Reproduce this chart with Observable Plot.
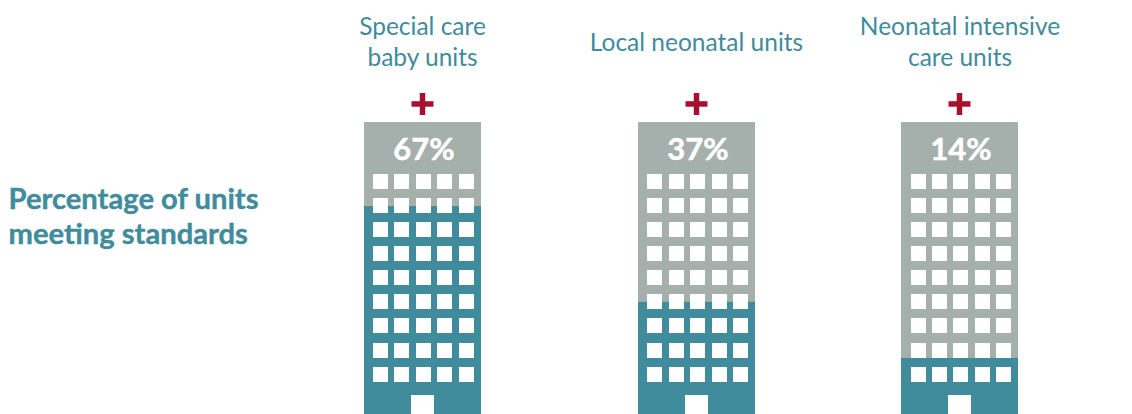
<!DOCTYPE html>
<html><head><meta charset="utf-8">
<script src="https://cdn.jsdelivr.net/npm/d3@7"></script>
<script src="https://cdn.jsdelivr.net/npm/@observablehq/plot@0.6"></script>
<style>html,body{margin:0;padding:0;background:#fff}svg{display:block}</style>
</head><body><div id="chart"></div>
<script>
// Data
const categories = ["Special care\nbaby units", "Local neonatal units", "Neonatal intensive\ncare units"];
const labels = ["67%", "37%", "14%"];
// Height of the coloured fill as drawn in the picture, percent of building height
const fillShare = [71.2, 38.4, 19.2];
const sideTitle = "Percentage of units\nmeeting standards";
const rowsCount = 9;
const colsCount = 5;

// Layout (page pixels)
const W = 1132, H = 414, roofY = 122;
const centers = [422.5, 696.5, 959.5];
const halfW = 58.5;
const colOffsets = [
  [-49.5, -28.5, -6.5, 14.5, 36.5],
  [-49.5, -27.5, -6.5, 15.5, 36.5],
  [-48.5, -27.5, -6.5, 15.5, 36.5]
];
const rowTops = [174, 198, 222, 246, 270, 294, 318, 343, 367];
const winSize = 15;
const toPct = px => (H - px) / (H - roofY) * 100;

const buildings = categories.map((name, i) => ({name, label: labels[i], share: fillShare[i], cx: centers[i], i}));
const windows = buildings.flatMap(b => d3.range(rowsCount).flatMap(r => d3.range(colsCount).map(c => ({
  x1: b.cx + colOffsets[b.i][c], x2: b.cx + colOffsets[b.i][c] + winSize,
  y1: toPct(rowTops[r] + winSize), y2: toPct(rowTops[r])
}))));

const teal = "#408b9c", gray = "#a5afac", red = "#a6112e";
const font = "Lato, sans-serif";

const chart = Plot.plot({
  width: W, height: H, margin: 0,
  style: {background: "#fff", fontFamily: font},
  x: {type: "linear", domain: [0, W], range: [0, W], axis: null},
  y: {type: "linear", domain: [0, 100], range: [H, roofY], axis: null, clamp: false},
  marks: [
    Plot.rect(buildings, {x1: d => d.cx - halfW, x2: d => d.cx + halfW, y1: 0, y2: 100, fill: gray}),
    Plot.rect(buildings, {x1: d => d.cx - halfW, x2: d => d.cx + halfW, y1: 0, y2: "share", fill: teal}),
    Plot.rect(windows, {x1: "x1", x2: "x2", y1: "y1", y2: "y2", fill: "#fff"}),
    Plot.rect(buildings, {x1: d => d.cx - 11.5, x2: d => d.cx + 11.5, y1: 0, y2: toPct(395), fill: "#fff"}),
    Plot.rect(buildings, {x1: d => d.cx - 11, x2: d => d.cx + 11, y1: toPct(106.7), y2: toPct(101.2), fill: red}),
    Plot.rect(buildings, {x1: d => d.cx - 2.75, x2: d => d.cx + 2.75, y1: toPct(115), y2: toPct(93), fill: red}),
    Plot.text(buildings, {x: d => d.cx + 1, y: toPct(150), text: "label", fill: "#fff", stroke: "#fff", strokeWidth: 0.5, fontSize: 31, fontWeight: 700, fontFamily: font, textAnchor: "middle", lineAnchor: "middle"}),
    Plot.text(buildings, {x: d => d.cx - (d.i === 2 ? 0 : 0.5), y: toPct(40.5), text: "name", fill: teal, fontSize: 24.5, fontFamily: font, textAnchor: "middle", lineAnchor: "middle", lineHeight: 1.26}),
    Plot.text([sideTitle], {x: 8, y: toPct(214.5), text: d => d, fill: teal, stroke: teal, strokeWidth: 0.4, fontSize: 29.2, fontWeight: 700, fontFamily: font, textAnchor: "start", lineAnchor: "middle", lineHeight: 1.2})
  ]
});
document.getElementById("chart").appendChild(chart);
</script></body></html>
